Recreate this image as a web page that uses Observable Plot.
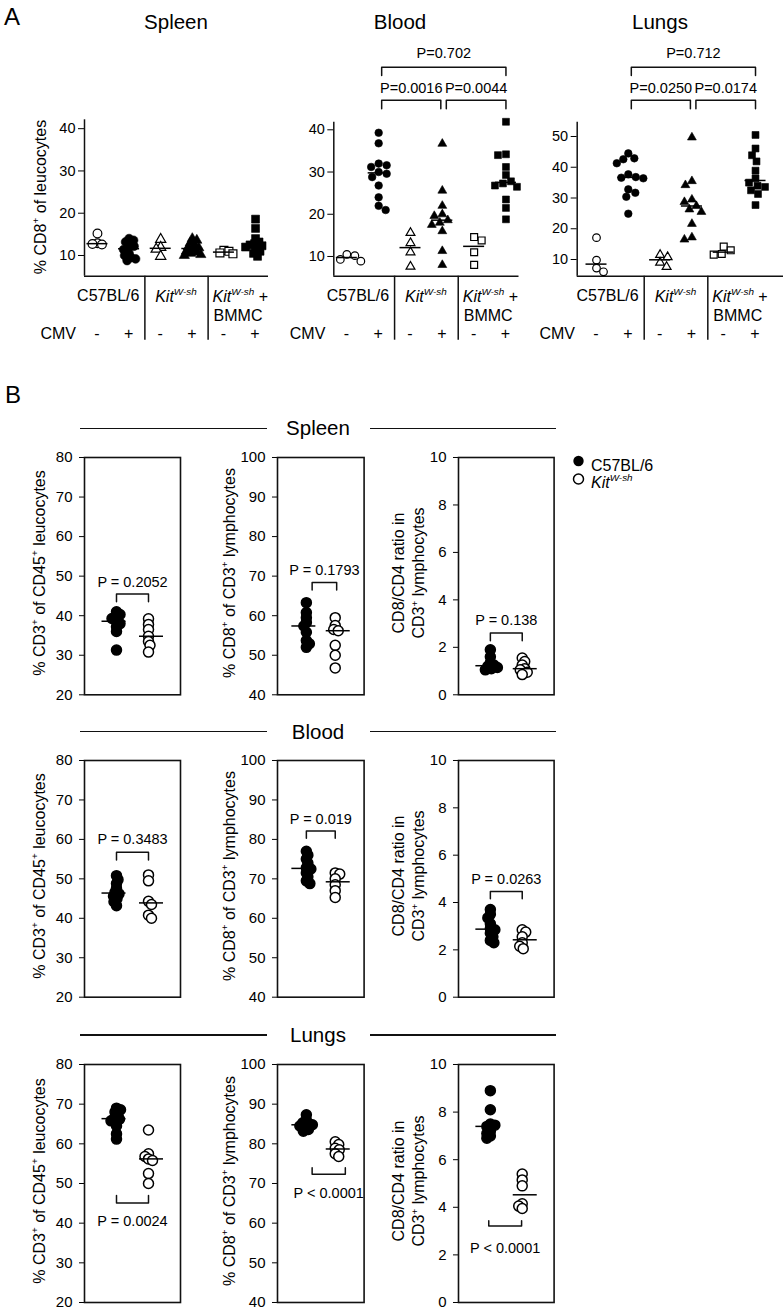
<!DOCTYPE html>
<html><head><meta charset="utf-8">
<script src="https://cdn.jsdelivr.net/npm/d3@7"></script>
<script src="https://cdn.jsdelivr.net/npm/@observablehq/plot@0.6"></script>
<style>
body{margin:0;background:#fff;}
#root{position:relative;width:783px;height:1312px;overflow:hidden;background:#fff;font-family:'Liberation Sans',Arial,Helvetica,sans-serif;color:#000;}
.abs{position:absolute;white-space:nowrap;line-height:1;}
.sup{font-size:0.62em;vertical-align:0.62em;}
.plotbox{position:absolute;}
</style></head><body><div id="root"></div>
<script>
const FONT = "'Liberation Sans', Arial, Helvetica, sans-serif";

// ================= DATA =================
const organNames = ["Spleen", "Blood", "Lungs"];
const cmvSigns = ["-", "+"];
const yTicksA = [10, 20, 30, 40];
const yTicksLungsA = [10, 20, 30, 40, 50];

// Panel A: % CD8+ of leucocytes. Groups: C57BL/6 -, C57BL/6 +, KitW-sh -, KitW-sh +, KitW-sh+BMMC -, KitW-sh+BMMC +
const spleenA = [
  [15.2, 12.9, 12.7, 12.6],
  [14.0, 13.6, 13.2, 12.8, 12.2, 11.8, 11.4, 10.5, 10.0, 9.5, 9.2, 8.8],
  [13.8, 11.9, 11.5, 9.8],
  [14.0, 13.6, 13.0, 12.5, 12.0, 11.8, 11.5, 11.0, 10.8, 10.5, 10.2, 10.0],
  [11.2, 11.0, 10.6, 10.4],
  [18.6, 16.4, 14.0, 13.2, 12.8, 12.5, 12.3, 12.0, 11.5, 11.0, 10.5, 9.8]
];
const bloodA = [
  [10.5, 10.2, 9.3, 8.9],
  [39.3, 36.8, 32.0, 31.6, 31.2, 30.0, 29.6, 28.8, 26.8, 24.0, 22.0, 21.0],
  [15.6, 13.2, 11.0, 7.6],
  [36.7, 25.6, 22.0, 20.0, 19.6, 18.6, 18.0, 17.5, 16.0, 11.3, 8.0],
  [14.6, 13.8, 11.0, 8.0],
  [41.9, 34.2, 34.0, 31.2, 29.3, 27.8, 27.3, 26.8, 26.5, 23.5, 21.5, 18.8]
];
const lungsA = [
  [17.1, 9.8, 7.2, 6.0],
  [44.5, 42.9, 42.6, 41.3, 37.7, 36.8, 36.6, 36.4, 32.8, 31.7, 30.4, 24.9],
  [11.5, 10.8, 9.0, 7.6],
  [49.7, 35.5, 34.2, 29.5, 28.7, 27.4, 26.3, 25.5, 21.6, 17.2, 16.5],
  [14.2, 13.0, 11.8, 11.6],
  [50.5, 46.1, 43.9, 41.9, 38.9, 36.4, 35.0, 34.0, 33.6, 32.5, 31.3, 27.7]
];
const pBloodA = ["P=0.0016", "P=0.0044", "P=0.702"];
const pLungsA = ["P=0.0250", "P=0.0174", "P=0.712"];

// Panel B: measures per organ: [%CD3+ of CD45+, %CD8+ of CD3+, CD8/CD4 ratio]
const yTicksB = [[20, 30, 40, 50, 60, 70, 80], [40, 50, 60, 70, 80, 90, 100], [0, 2, 4, 6, 8, 10]];
const spleenB_C57 = [
  [41.0, 40.3, 39.8, 39.3, 38.6, 38.0, 37.2, 36.0, 31.3],
  [63.3, 60.8, 59.5, 58.3, 57.4, 55.8, 53.7, 52.9, 52.0],
  [1.9, 1.6, 1.35, 1.25, 1.2, 1.15, 1.1, 1.05]
];
const spleenB_Kit = [
  [39.2, 37.8, 36.5, 34.8, 33.5, 32.5, 30.8],
  [59.5, 57.5, 56.5, 56.2, 52.5, 50.0, 46.8],
  [1.55, 1.4, 1.25, 1.1, 1.05, 0.95, 0.85]
];
const bloodB_C57 = [
  [50.8, 49.8, 48.8, 47.6, 46.6, 46.2, 45.6, 45.0, 44.2, 43.2],
  [77.0, 76.0, 75.0, 74.0, 72.8, 72.5, 71.5, 70.5, 69.5, 68.8],
  [3.7, 3.5, 3.35, 3.1, 2.9, 2.85, 2.7, 2.55, 2.4, 2.3]
];
const bloodB_Kit = [
  [51.0, 49.5, 44.3, 43.5, 40.8, 40.0],
  [71.5, 71.2, 70.0, 68.5, 67.0, 65.3],
  [2.85, 2.75, 2.55, 2.3, 2.15, 2.05]
];
const lungsB_C57 = [
  [69.0, 68.6, 68.0, 67.2, 66.5, 66.2, 65.8, 64.5, 62.5, 61.2],
  [87.3, 86.0, 85.3, 85.0, 84.8, 84.5, 84.2, 83.6, 83.2],
  [8.9, 8.1, 7.5, 7.45, 7.4, 7.2, 7.1, 7.0, 6.9]
];
const lungsB_Kit = [
  [63.5, 57.5, 56.8, 56.2, 55.8, 52.5, 50.0],
  [80.5, 79.8, 78.9, 78.5, 77.5, 76.8],
  [5.4, 5.15, 4.9, 4.15, 4.05, 3.95]
];
const pSpleenB = ["P = 0.2052", "P = 0.1793", "P = 0.138"];
const pBloodB = ["P = 0.3483", "P = 0.019", "P = 0.0263"];
const pLungsB = ["P = 0.0024", "P < 0.0001", "P < 0.0001"];

// ================= LAYOUT =================
const root = document.getElementById("root");
function txt(html, x, y, o = {}) {
  const {anchor = "middle", size = 16, rotate = 0, lh = 1} = o;
  const d = document.createElement("div");
  d.className = "abs";
  d.innerHTML = html;
  d.style.fontSize = size + "px";
  d.style.lineHeight = lh;
  d.style.left = x + "px";
  d.style.top = y + "px";
  const tx = anchor === "middle" ? "-50%" : anchor === "end" ? "-100%" : "0";
  d.style.transform = `translate(${tx},-50%)` + (rotate ? ` rotate(${rotate}deg)` : "");
  if (o.align) d.style.textAlign = o.align;
  root.appendChild(d);
  return d;
}
function hline(x1, x2, y, w = 1.5) {
  const d = document.createElement("div");
  d.style.cssText = `position:absolute;left:${x1}px;top:${y - w / 2}px;width:${x2 - x1}px;height:${w}px;background:#111;`;
  root.appendChild(d);
}
function put(svg, left, top) {
  const w = document.createElement("div");
  w.className = "plotbox";
  w.style.left = left + "px";
  w.style.top = top + "px";
  w.appendChild(svg);
  root.appendChild(w);
}
function swarm(vals, ky, minD) {
  const placed = [], out = [];
  vals.forEach((v, i) => {
    const y = v * ky;
    let chosen = 0;
    for (let s = 0; s <= 80; s += 0.5) {
      const cands = s === 0 ? [0] : (i % 2 ? [s, -s] : [-s, s]);
      const ok = cands.find(c => placed.every(p => Math.hypot(p.x - c, p.y - y) >= minD));
      if (ok !== undefined) { chosen = ok; break; }
    }
    placed.push({x: chosen, y});
    out.push(chosen);
  });
  return out;
}
const KIT = '<i>Kit</i><i class="sup">W-sh</i>';

// ---------- Panel A ----------
const shapesA = ["circle", "triangle", "square"];
const rA = {circle: 3.8, triangle: 3.3, square: 3.9};
const TOPA = 40, HA = 310, SEP_EXT = 64;
function plotA(groups, cfg) {
  const {left, W, ml, mr, plotTop, plotBottom, xdom, ydom, ticks, minD, scale = 1, pLabels} = cfg;
  const mt = plotTop - TOPA, mb = TOPA + HA - plotBottom;
  const iw = W - ml - mr, ih = HA - mt - mb;
  const kx = iw / (xdom[1] - xdom[0]), ky = ih / (ydom[1] - ydom[0]);
  const marks = [
    Plot.ruleX([xdom[0]], {stroke: "#111", strokeWidth: 1.5}),
    Plot.ruleY([ydom[0]], {stroke: "#111", strokeWidth: 1.5}),
    Plot.ruleX([1.5, 3.5], {y1: ydom[0], y2: ydom[0] - SEP_EXT / ky, stroke: "#111", strokeWidth: 1.5})
  ];
  groups.forEach((vals, gi) => {
    const shape = shapesA[Math.floor(gi / 2)];
    const filled = gi % 2 === 1;
    const off = swarm(vals, ky, minD);
    const pts = vals.map((v, i) => ({x: gi + off[i] / kx, v}));
    marks.push(Plot.dot(pts, {x: "x", y: "v", r: rA[shape] * scale, symbol: shape,
      fill: filled ? "black" : "white", stroke: "black", strokeWidth: filled ? 0.6 : 1.2}));
  });
  const meds = groups.map((vals, gi) => ({x1: gi - 10.5 / kx, x2: gi + 10.5 / kx, y: d3.median(vals)}));
  marks.push(Plot.ruleY(meds, {x1: "x1", x2: "x2", y: "y", stroke: "black", strokeWidth: 1.5}));
  if (pLabels) {
    const up = px => ydom[1] + px / ky;
    const br = [
      {a: 1 + 3 / kx, b: 3 - 1.5 / kx, line: up(22), leg: up(13.5), t: up(34), label: pLabels[0]},
      {a: 3 + 4 / kx, b: 5, line: up(22), leg: up(13.5), t: up(34), label: pLabels[1]},
      {a: 1 + 3 / kx, b: 5, line: up(55), leg: up(46.7), t: up(68.4), label: pLabels[2]}
    ];
    const path = [];
    br.forEach((b, k) => path.push({k, x: b.a, y: b.leg}, {k, x: b.a, y: b.line}, {k, x: b.b, y: b.line}, {k, x: b.b, y: b.leg}));
    marks.push(Plot.line(path, {x: "x", y: "y", z: "k", stroke: "#111", strokeWidth: 1.5}));
    marks.push(Plot.text(br, {x: d => (d.a + d.b) / 2, y: "t", text: "label", fontSize: 14.5, fill: "black"}));
  }
  const svg = Plot.plot({
    width: W, height: HA, marginLeft: ml, marginRight: mr, marginTop: mt, marginBottom: mb,
    style: {fontFamily: FONT, fontSize: "14.5px", background: "transparent", overflow: "visible", color: "black"},
    x: {domain: xdom, axis: null},
    y: {domain: ydom, ticks, tickSize: 6, tickPadding: 3, label: null},
    marks
  });
  put(svg, left, TOPA);
  const cx = gi => left + ml + (gi - xdom[0]) * kx;
  return {cx, sep1: cx(1.5), sep2: cx(3.5)};
}

const cfgSpleen = {left: 0, W: 272, ml: 84, mr: 4, plotTop: 119.3, plotBottom: 275.7, xdom: [-0.41, 5.41], ydom: [5.1, 42.1], ticks: yTicksA, minD: 4.6, scale: 1.15};
const cfgBlood = {left: 270, W: 252, ml: 63.3, mr: 3.5, plotTop: 121.7, plotBottom: 275.7, xdom: [-0.41, 5.41], ydom: [5.33, 41.8], ticks: yTicksA, minD: 8, pLabels: pBloodA};
const cfgLungs = {left: 522, W: 261, ml: 54.7, mr: 0, plotTop: 121.7, plotBottom: 275.7, xdom: [-0.607, 5.88], ydom: [4.57, 54.65], ticks: yTicksLungsA, minD: 7.6, pLabels: pLungsA};
const layA = [plotA(spleenA, cfgSpleen), plotA(bloodA, cfgBlood), plotA(lungsA, cfgLungs)];

txt("A", 4, 17, {anchor: "start", size: 24});
[176, 400, 660].forEach((x, i) => txt(organNames[i], x, 22, {size: 20.5}));
txt('% CD8<span class="sup">+</span> of leucocytes', 40, 197, {size: 16, rotate: -90});
layA.forEach(L => {
  txt("C57BL/6", L.sep1 - 5, 296, {anchor: "end", size: 16});
  txt(KIT, (L.sep1 + L.sep2) / 2, 296, {size: 16});
  txt(KIT + " +", L.sep2 + 5, 296, {anchor: "start", size: 16});
  txt("BMMC", L.sep2 + 6, 316, {anchor: "start", size: 16});
  txt("CMV", L.cx(0) - 21, 334, {anchor: "end", size: 16});
  for (let g = 0; g < 6; g++) txt(cmvSigns[g % 2], L.cx(g), 334, {size: 16});
});

// ---------- Panel B ----------
const colsB = [[84, 180], [276.7, 363.3], [457.7, 553.3]];
const rowsB = [[456.7, 694], [760, 996.7], [1064.3, 1302.3]];
const ydomB = [[20, 80], [40, 100], [0, 10]];
// bracket layout in data units: [line, leg end, text], and x ends
const bracketB = [
  [[45.5, 43.5, 48.4], [68.4, 66.5, 71.4], [2.6, 2.28, 3.12]],
  [[56.75, 54.8, 59.9], [82.1, 80.3, 85.2], [4.47, 4.16, 4.96]],
  [[45.1, 47.0, 40.4], [72.3, 74.0, 67.6], [3.21, 3.43, 2.27]]
];
const bracketXB = [
  [[1, 2], [1.2, 2.05], [1, 2]],
  [[1, 2], [1, 2], [1, 2]],
  [[1, 2], [1.2, 2.35], [0.95, 1.98]]
];
function plotB(c57, kit, ri, ci, ptext) {
  const [fx0, fx1] = colsB[ci], [fy0, fy1] = rowsB[ri];
  const ydom = ydomB[ci];
  const ml = 50, mr = 4, mt = 6, mb = 6;
  const W = ml + (fx1 - fx0) + mr, H = mt + (fy1 - fy0) + mb;
  const kx = (fx1 - fx0) / 3, ky = (fy1 - fy0) / (ydom[1] - ydom[0]);
  const pts = [];
  [c57, kit].forEach((vals, gi) => {
    const off = swarm(vals, ky, 4.2);
    vals.forEach((v, i) => pts.push({x: gi + 1 + off[i] / kx, v, filled: gi === 0}));
  });
  const meds = [
    {x1: 1 - 14.5 / kx, x2: 1 + 9.5 / kx, y: d3.median(c57)},
    {x1: 2 - 9 / kx, x2: 2 + 15 / kx, y: d3.median(kit)}
  ];
  const [line, leg, ty] = bracketB[ri][ci];
  const [xa, xb] = bracketXB[ri][ci];
  const path = [{x: xa, y: leg}, {x: xa, y: line}, {x: xb, y: line}, {x: xb, y: leg}];
  const svg = Plot.plot({
    width: W, height: H, marginLeft: ml, marginRight: mr, marginTop: mt, marginBottom: mb,
    style: {fontFamily: FONT, fontSize: "15px", background: "transparent", overflow: "visible", color: "black"},
    x: {domain: [0, 3], axis: null},
    y: {domain: ydom, ticks: yTicksB[ci], tickSize: 5, tickPadding: 7, label: null},
    marks: [
      Plot.frame({stroke: "#111", strokeWidth: 1.6}),
      Plot.dot(pts.filter(d => d.filled), {x: "x", y: "v", r: 5, fill: "black", stroke: "black"}),
      Plot.dot(pts.filter(d => !d.filled), {x: "x", y: "v", r: 5, fill: "white", stroke: "black", strokeWidth: 1.5}),
      Plot.ruleY(meds, {x1: "x1", x2: "x2", y: "y", stroke: "black", strokeWidth: 1.5}),
      Plot.line(path, {x: "x", y: "y", stroke: "#111", strokeWidth: 1.5}),
      Plot.text([ptext], {x: (xa + xb) / 2, y: ty, text: d => d, fontSize: 14.5, fill: "black"})
    ]
  });
  put(svg, fx0 - ml, fy0 - mt);
}
const dataB = [[spleenB_C57, spleenB_Kit, pSpleenB], [bloodB_C57, bloodB_Kit, pBloodB], [lungsB_C57, lungsB_Kit, pLungsB]];
dataB.forEach(([c, k, p], ri) => {
  for (let ci = 0; ci < 3; ci++) plotB(c[ci], k[ci], ri, ci, p[ci]);
});

txt("B", 5, 395, {anchor: "start", size: 24});
const headerY = [428.3, 731.7, 1035];
headerY.forEach((y, ri) => {
  hline(80, 267, y);
  hline(370, 556, y);
  txt(organNames[ri], 318, y, {size: 20.5});
  const cy = (rowsB[ri][0] + rowsB[ri][1]) / 2 - 2;
  txt('% CD3<span class="sup">+</span> of CD45<span class="sup">+</span> leucocytes', 38.5, cy, {size: 16, rotate: -90});
  txt('% CD8<span class="sup">+</span> of CD3<span class="sup">+</span> lymphocytes', 228.5, cy, {size: 16, rotate: -90});
  txt('CD8/CD4 ratio in<br>CD3<span class="sup">+</span> lymphocytes', 409, cy, {size: 16, rotate: -90, lh: 1.25, align: "center"});
});

// legend
const leg = document.createElement("div");
leg.style.cssText = "position:absolute;left:570px;top:452px;";
leg.innerHTML = '<svg width="18" height="36"><circle cx="8.5" cy="9" r="5.2" fill="black"/><circle cx="8.5" cy="27" r="5" fill="white" stroke="black" stroke-width="1.5"/></svg>';
root.appendChild(leg);
txt("C57BL/6", 591, 466, {anchor: "start", size: 16});
txt(KIT, 591, 482, {anchor: "start", size: 16});
</script></body></html>
